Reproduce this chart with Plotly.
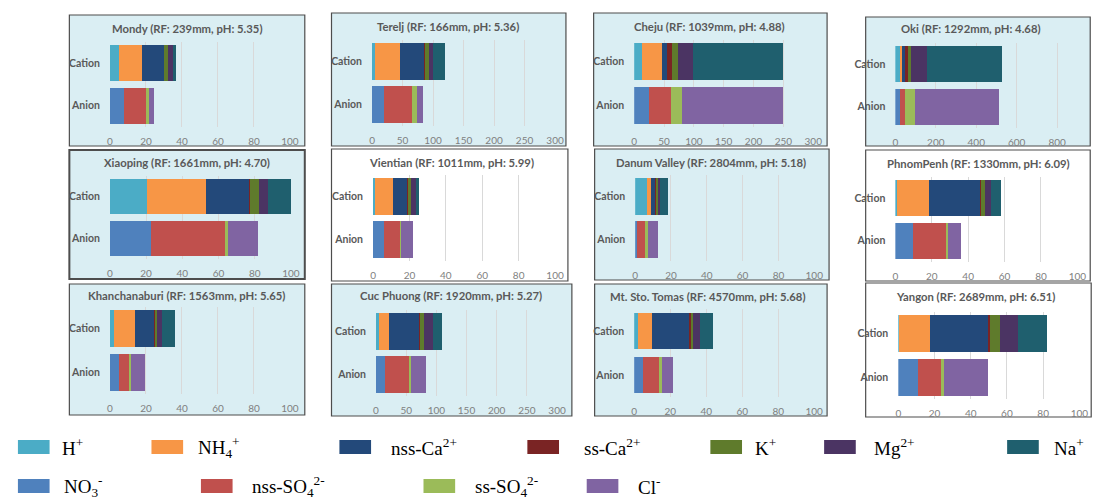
import plotly.graph_objects as go

W, H = 1119, 501
OX, OY = 8, 8          # default body margin of the html page
FW, FH = W - OX, H - OY


def px_x(px):
    return (px - OX) / FW


def px_y(py):
    return 1 - (py - OY) / FH


# ---------------- data ----------------
stations = ["Mondy", "Terelj", "Cheju", "Oki", "Xiaoping", "Vientian", "Danum Valley",
            "PhnomPenh", "Khanchanaburi", "Cuc Phuong", "Mt. Sto. Tomas", "Yangon"]
rainfall_mm = [239, 166, 1039, 1292, 1661, 1011, 2804, 1330, 1563, 1920, 4570, 2689]
ph_values = ["5.35", "5.36", "4.88", "4.68", "4.70", "5.99", "5.18", "6.09", "5.65", "5.27", "5.68", "6.51"]

categories = ["Cation", "Anion"]

cation_labels = ["H<sup>+</sup>", "NH<sub>4</sub><sup>+</sup>", "nss-Ca<sup>2+</sup>", "ss-Ca<sup>2+</sup>",
                 "K<sup>+</sup>", "Mg<sup>2+</sup>", "Na<sup>+</sup>"]
anion_labels = ["NO<sub>3</sub><sup>-</sup>", "nss-SO<sub>4</sub><sup>2-</sup>",
                "ss-SO<sub>4</sub><sup>2-</sup>", "Cl<sup>-</sup>"]

h_plus = [5.0, 4.3, 13.8, 25, 20.7, 0.9, 6.6, 1.1, 2.4, 4.4, 2.0, 0.3]
nh4 = [12.8, 42, 33, 13, 32.3, 9.8, 2.2, 17.6, 11.7, 17.4, 7.9, 17.3]
nss_ca = [12.2, 40, 9, 8, 24, 8.3, 2.4, 28.1, 10.7, 50.2, 21, 32.4]
ss_ca = [0.3, 1, 7.5, 20, 0.4, 0.4, 0.7, 0.4, 0.5, 1.6, 0.4, 0.9]
k_plus = [1.8, 5.5, 9.5, 9, 5.1, 1.5, 1.1, 2.3, 0.9, 5.4, 1.4, 5.1]
mg = [3.0, 7.5, 26, 82, 4.9, 2.5, 0.8, 3.3, 2.8, 15, 3.7, 10]
na = [1.7, 19.5, 150, 369, 12.8, 1.8, 4.6, 5.5, 7.1, 15, 7.5, 16.4]

no3 = [7.7, 19, 24, 21, 22.5, 6.2, 0.9, 9.6, 5.0, 14.7, 4.9, 10.9]
nss_so4 = [12.5, 47, 37, 28, 41, 8.7, 5.2, 18.5, 6.0, 39.8, 9.5, 12.7]
ss_so4 = [1.3, 8, 19, 46, 1.5, 0.5, 0.9, 0.8, 0.9, 3.9, 1.0, 1.9]
cl = [2.9, 9, 170, 418, 17, 6.7, 5.9, 7.0, 7.7, 24.6, 6.0, 24.1]

cation_series = [h_plus, nh4, nss_ca, ss_ca, k_plus, mg, na]
anion_series = [no3, nss_so4, ss_so4, cl]

axis_max = [100, 300, 300, 900, 100, 100, 100, 100, 100, 300, 100, 100]
tick_step = [20, 50, 50, 200, 20, 20, 20, 20, 20, 50, 20, 20]
tick_last = [100, 300, 300, 800, 100, 100, 100, 100, 100, 300, 100, 100]

# ---------------- styles ----------------
cation_colors = ["#4bacc6", "#f79646", "#23497a", "#7a2424", "#5f7b2c", "#4b3463", "#1f5f6e"]
anion_colors = ["#4f81bd", "#c0504d", "#9bbb59", "#8064a2"]

panel_bg = ["#daeef3", "#daeef3", "#daeef3", "#daeef3",
            "#daeef3", "#ffffff", "#daeef3", "#ffffff",
            "#daeef3", "#daeef3", "#daeef3", "#ffffff"]
border_w = [1.2, 1.2, 1.2, 1.2, 2.0, 1.2, 1.2, 1.2, 1.2, 1.2, 1.2, 1.2]

# panel boxes (pixels): x0, x1, y0, y1
boxes = [
    (67, 305, 15, 146), (332, 569, 13, 146), (597, 833, 13, 146), (872, 1099, 17, 146),
    (67, 305, 150, 279), (332, 571, 149, 281), (598, 835, 149, 280), (872, 1099, 150, 281),
    (67, 305, 284, 415), (332, 575, 284, 416), (598, 833, 284, 416), (872, 1100, 283, 417),
]
# plot areas (pixels): x0, x1, y0, y1
plots = [
    (108, 290, 42, 127), (373, 558, 40, 126), (638, 819, 40, 127), (902, 1086, 43, 128),
    (108, 291, 176, 259), (374, 558, 175, 261), (639, 820, 175, 261), (902, 1086, 177, 262),
    (108, 290, 307, 394), (377, 560, 310, 396), (638, 820, 309, 397), (905, 1088, 312, 399),
]
title_pos = [
    (186, 28), (450, 27), (714, 26), (978, 28),
    (186, 162), (453, 162), (716, 162), (986, 163),
    (185, 295), (453, 295), (713, 296), (983, 296),
]

FONT = "Lato"
GRAY = "#595959"

fig = go.Figure()
shapes = []
annotations = []

for i in range(12):
    n = i + 1
    xa = "x" if n == 1 else f"x{n}"
    ya = "y" if n == 1 else f"y{n}"
    for vals, col, lab in zip(cation_series, cation_colors, cation_labels):
        fig.add_trace(go.Bar(x=[vals[i]], y=[categories[0]], orientation="h",
                             marker=dict(color=col, line=dict(width=0)),
                             name=lab, showlegend=False, xaxis=xa, yaxis=ya))
    for vals, col, lab in zip(anion_series, anion_colors, anion_labels):
        fig.add_trace(go.Bar(x=[vals[i]], y=[categories[1]], orientation="h",
                             marker=dict(color=col, line=dict(width=0)),
                             name=lab, showlegend=False, xaxis=xa, yaxis=ya))

    px0, px1, py0, py1 = plots[i]
    xkey = "xaxis" if n == 1 else f"xaxis{n}"
    ykey = "yaxis" if n == 1 else f"yaxis{n}"
    fig.update_layout({
        xkey: dict(domain=[px_x(px0), px_x(px1)], anchor=ya, range=[0, axis_max[i]],
                   tickvals=list(range(0, tick_last[i] + 1, tick_step[i])),
                   showgrid=True, gridcolor="#d9d9d9", gridwidth=1, zeroline=False, showline=False,
                   ticks="", ticklabelstandoff=7,
                   tickfont=dict(family=FONT, size=10, color="#7f7f7f"), fixedrange=True),
        ykey: dict(domain=[px_y(py1), px_y(py0)], anchor=xa,
                   categoryorder="array", categoryarray=[categories[1], categories[0]],
                   showgrid=False, zeroline=False, showline=False, ticks="", ticklabelstandoff=9,
                   tickfont=dict(family=FONT, size=10.5, color=GRAY, weight="bold"), fixedrange=True),
    })

    bx0, bx1, by0, by1 = boxes[i]
    shapes.append(dict(type="rect", xref="paper", yref="paper", layer="below",
                       x0=px_x(bx0), x1=px_x(bx1), y0=px_y(by1), y1=px_y(by0),
                       fillcolor=panel_bg[i], line=dict(color="#4d4d4d", width=border_w[i])))
    tx, ty = title_pos[i]
    annotations.append(dict(xref="paper", yref="paper", x=px_x(tx), y=px_y(ty),
                            xanchor="center", yanchor="middle", showarrow=False,
                            text=f"<b>{stations[i]} (RF: {rainfall_mm[i]}mm, pH: {ph_values[i]})</b>",
                            font=dict(family=FONT, size=11.3, color=GRAY)))

# ---------------- legend (drawn) ----------------
legend_labels = cation_labels + anion_labels
legend_colors = cation_colors + anion_colors
legend_swatch_x = [15, 150, 340, 530, 715, 830, 1015, 15, 200, 425, 590]
legend_text_x = [58, 195, 390, 585, 758, 878, 1060, 60, 250, 475, 640]
legend_row_y = [447] * 7 + [486] * 4

for lab, col, sx, tx, ry in zip(legend_labels, legend_colors, legend_swatch_x, legend_text_x, legend_row_y):
    shapes.append(dict(type="rect", xref="paper", yref="paper", layer="above",
                       x0=px_x(sx), x1=px_x(sx + 32), y0=px_y(ry + 7), y1=px_y(ry - 7),
                       fillcolor=col, line=dict(width=0)))
    annotations.append(dict(xref="paper", yref="paper", x=px_x(tx), y=px_y(ry),
                            xanchor="left", yanchor="middle", showarrow=False, text=lab,
                            font=dict(family="Liberation Serif", size=19, color="#000000")))

fig.update_layout(
    width=FW, height=FH, margin=dict(l=0, r=0, t=0, b=0),
    paper_bgcolor="#ffffff", plot_bgcolor="rgba(0,0,0,0)",
    barmode="stack", bargap=0.16, showlegend=False,
    shapes=shapes, annotations=annotations,
)

fig.write_html("out.html", config={"displayModeBar": False})
